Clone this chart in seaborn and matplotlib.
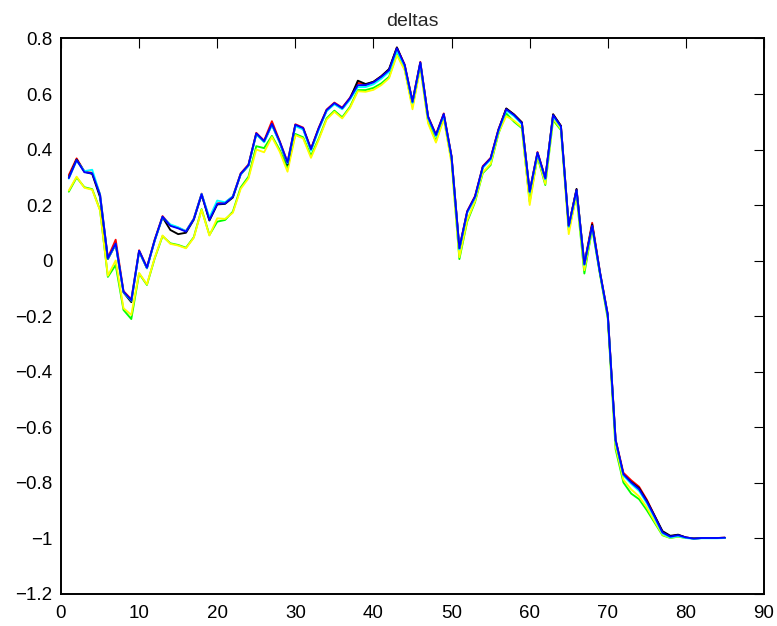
import matplotlib
matplotlib.use("Agg")
import matplotlib.pyplot as plt
from matplotlib.ticker import FuncFormatter, MultipleLocator
import numpy as np
import pandas as pd
import seaborn as sns

# sample index 1..85
steps = list(range(1, 86))

delta_blue = [0.297, 0.362, 0.318, 0.314, 0.236, 0.008, 0.061, -0.112, -0.143, 0.035,
              -0.026, 0.074, 0.158, 0.125, 0.116, 0.104, 0.149, 0.239, 0.146, 0.204,
              0.206, 0.229, 0.312, 0.344, 0.458, 0.430, 0.492, 0.428, 0.353, 0.489,
              0.477, 0.401, 0.477, 0.542, 0.567, 0.549, 0.585, 0.632, 0.632, 0.642,
              0.662, 0.686, 0.765, 0.704, 0.572, 0.714, 0.517, 0.452, 0.528, 0.374,
              0.044, 0.176, 0.230, 0.338, 0.368, 0.471, 0.545, 0.524, 0.495, 0.248,
              0.389, 0.296, 0.524, 0.483, 0.125, 0.254, -0.013, 0.125, -0.043, -0.196,
              -0.647, -0.770, -0.800, -0.824, -0.869, -0.923, -0.980, -0.995, -0.990, -0.998,
              -1.002, -1.000, -1.000, -1.000, -0.999]

delta_red = [0.308, 0.368, 0.320, 0.316, 0.238, 0.010, 0.075, -0.110, -0.140, 0.037,
             -0.024, 0.076, 0.160, 0.127, 0.118, 0.106, 0.151, 0.241, 0.148, 0.206,
             0.208, 0.231, 0.314, 0.346, 0.460, 0.432, 0.502, 0.430, 0.355, 0.491,
             0.479, 0.403, 0.479, 0.544, 0.569, 0.551, 0.587, 0.640, 0.634, 0.644,
             0.664, 0.688, 0.767, 0.706, 0.574, 0.716, 0.519, 0.454, 0.530, 0.376,
             0.046, 0.178, 0.232, 0.340, 0.370, 0.473, 0.547, 0.526, 0.497, 0.250,
             0.391, 0.298, 0.526, 0.485, 0.127, 0.256, -0.011, 0.136, -0.041, -0.194,
             -0.645, -0.765, -0.792, -0.815, -0.862, -0.920, -0.978, -0.994, -0.989, -0.998,
             -1.002, -1.000, -1.000, -1.000, -0.999]

delta_black = [0.300, 0.364, 0.320, 0.312, 0.228, 0.005, 0.058, -0.115, -0.150, 0.033,
               -0.028, 0.072, 0.156, 0.110, 0.095, 0.100, 0.147, 0.237, 0.144, 0.202,
               0.204, 0.227, 0.310, 0.342, 0.456, 0.428, 0.490, 0.426, 0.345, 0.487,
               0.475, 0.399, 0.475, 0.540, 0.565, 0.547, 0.583, 0.648, 0.636, 0.644,
               0.664, 0.690, 0.768, 0.702, 0.570, 0.712, 0.515, 0.450, 0.526, 0.372,
               0.042, 0.174, 0.228, 0.336, 0.366, 0.469, 0.548, 0.526, 0.498, 0.246,
               0.387, 0.294, 0.527, 0.485, 0.123, 0.258, -0.015, 0.130, -0.045, -0.198,
               -0.649, -0.772, -0.798, -0.820, -0.866, -0.920, -0.975, -0.992, -0.988, -0.998,
               -1.002, -1.000, -1.000, -1.000, -0.999]

delta_cyan = [0.295, 0.360, 0.322, 0.327, 0.238, 0.006, 0.059, -0.114, -0.145, 0.033,
              -0.028, 0.072, 0.156, 0.130, 0.120, 0.106, 0.150, 0.240, 0.155, 0.216,
              0.210, 0.231, 0.310, 0.342, 0.455, 0.426, 0.488, 0.424, 0.350, 0.484,
              0.472, 0.396, 0.472, 0.538, 0.563, 0.545, 0.580, 0.625, 0.625, 0.635,
              0.655, 0.680, 0.755, 0.700, 0.568, 0.710, 0.513, 0.448, 0.524, 0.370,
              0.040, 0.172, 0.226, 0.334, 0.364, 0.467, 0.540, 0.520, 0.491, 0.244,
              0.385, 0.292, 0.520, 0.480, 0.121, 0.251, -0.016, 0.122, -0.046, -0.199,
              -0.652, -0.775, -0.805, -0.830, -0.875, -0.928, -0.984, -0.998, -0.993, -1.000,
              -1.003, -1.001, -1.001, -1.001, -1.000]

delta_green = [0.248, 0.299, 0.264, 0.257, 0.182, -0.059, -0.016, -0.178, -0.211, -0.047,
               -0.088, 0.008, 0.088, 0.062, 0.056, 0.046, 0.084, 0.185, 0.092, 0.140,
               0.146, 0.176, 0.263, 0.302, 0.412, 0.405, 0.449, 0.398, 0.332, 0.456,
               0.444, 0.377, 0.440, 0.512, 0.540, 0.516, 0.554, 0.614, 0.614, 0.622,
               0.638, 0.662, 0.745, 0.690, 0.555, 0.700, 0.500, 0.430, 0.515, 0.360,
               0.005, 0.140, 0.210, 0.315, 0.344, 0.457, 0.530, 0.500, 0.477, 0.212,
               0.374, 0.272, 0.506, 0.470, 0.110, 0.236, -0.047, 0.115, -0.050, -0.210,
               -0.680, -0.800, -0.840, -0.860, -0.900, -0.945, -0.990, -1.000, -0.995, -1.000,
               -1.000, -1.000, -1.000, -1.000, -1.000]

delta_yellow = [0.252, 0.302, 0.262, 0.255, 0.180, -0.055, 0.000, -0.172, -0.196, -0.045,
                -0.086, 0.010, 0.090, 0.060, 0.054, 0.044, 0.082, 0.183, 0.090, 0.152,
                0.150, 0.172, 0.258, 0.296, 0.400, 0.390, 0.445, 0.392, 0.320, 0.452,
                0.440, 0.370, 0.436, 0.508, 0.536, 0.512, 0.550, 0.610, 0.608, 0.615,
                0.632, 0.657, 0.740, 0.686, 0.545, 0.696, 0.494, 0.425, 0.510, 0.350,
                0.012, 0.145, 0.214, 0.318, 0.348, 0.460, 0.520, 0.504, 0.480, 0.200,
                0.378, 0.276, 0.510, 0.474, 0.095, 0.240, -0.035, 0.118, -0.048, -0.205,
                -0.670, -0.790, -0.825, -0.850, -0.890, -0.940, -0.988, -0.999, -0.994, -1.000,
                -1.000, -1.000, -1.000, -1.000, -1.000]

# drawing order: later series sit on top
series_names = ["green", "yellow", "red", "black", "cyan", "blue"]
series_values = [delta_green, delta_yellow, delta_red, delta_black, delta_cyan, delta_blue]
series_colors = {"yellow": "#ffff00", "green": "#00ff00", "red": "#ff0000",
                 "black": "#000000", "cyan": "#00ffff", "blue": "#0000ff"}

frames = [pd.DataFrame({"step": steps, "delta": vals, "series": name})
          for name, vals in zip(series_names, series_values)]
df = pd.concat(frames, ignore_index=True)

sns.set_style("white")
plt.rcParams["font.family"] = ["Liberation Sans", "DejaVu Sans"]

fig = plt.figure(figsize=(7.77, 6.26), dpi=100)
ax = fig.add_axes([0.0785, 0.0519, 0.9048, 0.8866])

sns.lineplot(data=df, x="step", y="delta", hue="series", hue_order=series_names,
             palette=series_colors, legend=False, linewidth=1.35, ax=ax,
             estimator=None, sort=False)


def short_label(value, _pos):
    return ("%g" % round(value, 6)).replace("-", "\u2212")


ax.set_xlim(0, 90)
ax.set_ylim(-1.2, 0.8)
ax.xaxis.set_major_locator(MultipleLocator(10))
ax.yaxis.set_major_locator(MultipleLocator(0.2))
ax.yaxis.set_major_formatter(FuncFormatter(short_label))
ax.set_xlabel("")
ax.set_ylabel("")
ax.set_title("deltas", fontsize=14, pad=9)

ax.tick_params(direction="in", top=True, right=True, length=7, width=0.8,
               labelsize=13.5, colors="black")
ax.tick_params(axis="x", pad=8)
ax.tick_params(axis="y", pad=6)
for side in ax.spines.values():
    side.set_color("black")
    side.set_linewidth(1.4)

fig.savefig("out.png", dpi=100, facecolor="white")
